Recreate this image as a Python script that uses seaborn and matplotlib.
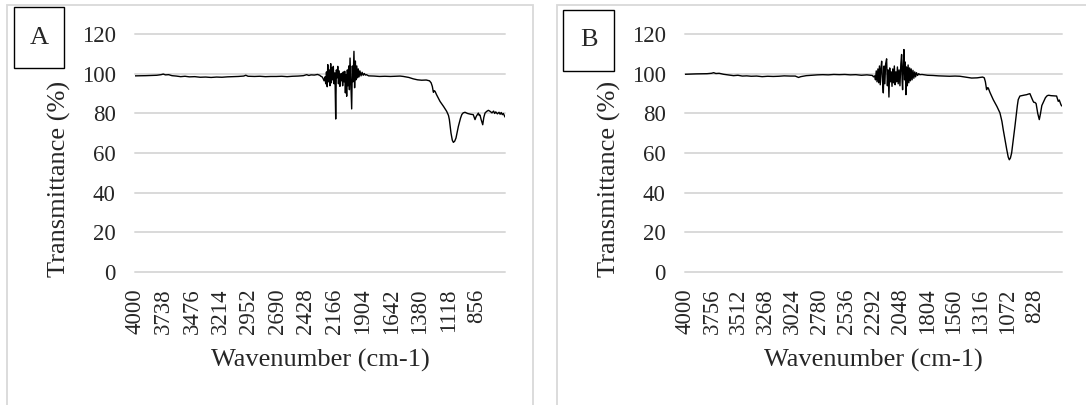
import matplotlib
matplotlib.use("Agg")
import matplotlib.pyplot as plt
import matplotlib.patches as mpatches
import pandas as pd
import seaborn as sns

# FTIR spectrum A (wavenumber, transmittance %)
wn_a = [4000, 3900, 3800, 3760, 3740, 3720, 3690, 3660, 3620, 3580, 3540, 3500,
        3450, 3400, 3350, 3300, 3250, 3200, 3150, 3100, 3050, 3000, 2980, 2960,
        2900, 2850, 2800, 2750, 2700, 2650, 2600, 2550, 2500, 2450, 2420, 2400,
        2380, 2350, 2320, 2300, 2290, 2280, 2270, 2260, 2251, 2245, 2238, 2231,
        2226, 2220, 2213, 2206, 2199, 2193, 2187, 2181, 2175, 2168, 2160, 2153,
        2147, 2140, 2134, 2128, 2121, 2114, 2108, 2102, 2095, 2089, 2083, 2076,
        2070, 2064, 2058, 2052, 2046, 2040, 2033, 2027, 2021, 2014, 2006, 2000,
        1993, 1985, 1979, 1972, 1966, 1959, 1952, 1945, 1938, 1930, 1920, 1910,
        1900, 1890, 1880, 1870, 1850, 1800, 1750, 1700, 1650, 1600, 1560, 1530,
        1480, 1440, 1400, 1362, 1320, 1290, 1275, 1264, 1254, 1246, 1239, 1225,
        1193, 1160, 1132, 1115, 1107, 1092, 1080, 1070, 1058, 1046, 1024, 1005,
        993, 980, 963, 940, 910, 887, 878, 871, 860, 850, 840, 832, 825, 815,
        800, 790, 779, 765, 748, 730, 715, 700, 690, 680, 665, 650, 640, 630,
        620, 610, 595]
t_a = [99.0, 99.1, 99.3, 99.6, 99.9, 99.5, 99.6, 99.1, 98.9, 98.6, 98.8, 98.5,
       98.6, 98.3, 98.4, 98.2, 98.4, 98.3, 98.5, 98.6, 98.7, 98.9, 99.3, 98.8,
       98.7, 98.8, 98.6, 98.7, 98.7, 98.8, 98.6, 98.8, 98.9, 99.1, 99.6, 99.2,
       99.5, 99.4, 99.7, 99.3, 98.8, 98.6, 97.8, 96.5, 98.5, 95.0, 101.0, 93.5,
       104.7, 96.0, 102.0, 94.0, 105.2, 95.5, 103.0, 97.0, 103.8, 95.0, 100.5, 77.2,
       102.0, 98.0, 103.8, 95.0, 101.5, 93.7, 100.0, 96.5, 100.3, 94.0, 101.0, 96.0,
       101.3, 90.4, 99.5, 88.7, 102.0, 94.0, 104.0, 92.0, 108.0, 96.0, 82.3, 104.0,
       96.0, 111.4, 93.0, 106.5, 97.0, 104.0, 98.0, 102.5, 98.5, 101.5, 99.0, 100.8,
       99.3, 100.2, 99.4, 99.6, 99.0, 98.9, 98.7, 98.8, 98.7, 98.8, 98.9, 98.7,
       98.2, 97.5, 97.0, 96.8, 96.9, 96.5, 95.5, 93.7, 90.7, 91.5, 91.2, 89.5,
       86.1, 83.5, 81.1, 79.0, 76.9, 70.1, 66.5, 65.4, 66.0, 67.6, 73.5, 77.5,
       79.4, 80.3, 80.6, 80.0, 79.6, 79.4, 78.0, 76.9, 78.5, 79.4, 80.2, 79.0, 79.2, 77.0,
       74.3, 78.0, 80.2, 81.0, 81.6, 81.0, 80.3, 81.2, 80.0, 80.8, 79.8, 80.6, 79.6, 80.5,
       79.4, 80.0, 78.2]

# FTIR spectrum B
wn_b = [4000, 3900, 3800, 3760, 3740, 3720, 3690, 3650, 3600, 3560, 3520, 3480,
        3440, 3400, 3350, 3300, 3250, 3200, 3150, 3100, 3050, 3000, 2970, 2950,
        2900, 2850, 2800, 2750, 2700, 2650, 2600, 2550, 2500, 2450, 2400, 2350,
        2300, 2290, 2280, 2272, 2265, 2258, 2250, 2243, 2236, 2229, 2222, 2216,
        2208, 2201, 2194, 2187, 2180, 2171, 2164, 2157, 2150, 2143, 2136, 2129,
        2122, 2115, 2108, 2101, 2094, 2087, 2080, 2073, 2066, 2058, 2050, 2042,
        2035, 2030, 2026, 2020, 2014, 2008, 2002, 1996, 1990, 1983, 1976, 1969,
        1962, 1955, 1948, 1940, 1932, 1924, 1916, 1908, 1900, 1890, 1880, 1870,
        1850, 1800, 1750, 1700, 1650, 1600, 1550, 1506, 1450, 1400, 1350, 1300,
        1285, 1275, 1264, 1256, 1249, 1240, 1234, 1204, 1170, 1143, 1125, 1113,
        1095, 1081, 1068, 1058, 1048, 1037, 1020, 1007, 995, 985, 977, 962,
        946, 920, 900, 885, 871, 860, 850, 841, 835, 826, 815, 800,
        786, 775, 763, 750, 730, 714, 700, 680, 660, 644, 629, 614,
        605, 597, 590, 583]
t_b = [99.8, 100.0, 100.1, 100.3, 100.6, 100.2, 100.3, 99.8, 99.4, 99.1, 99.3, 98.9,
       99.0, 98.8, 98.9, 98.6, 98.8, 98.7, 98.8, 99.0, 98.9, 98.9, 98.2, 98.6,
       99.1, 99.3, 99.5, 99.6, 99.5, 99.7, 99.6, 99.7, 99.5, 99.6, 99.3, 99.5,
       99.2, 98.5, 99.0, 97.0, 101.5, 96.0, 102.5, 95.5, 104.0, 94.5, 103.0, 106.4,
       96.0, 90.4, 104.0, 95.0, 105.0, 107.6, 94.0, 102.0, 88.3, 103.0, 96.0, 101.0,
       93.7, 102.5, 95.5, 104.0, 94.5, 101.0, 96.0, 103.5, 95.0, 102.0, 94.0, 105.0,
       109.8, 96.0, 92.0, 104.0, 112.3, 97.0, 106.0, 89.5, 103.5, 94.0, 104.5, 95.5,
       103.0, 96.5, 102.5, 97.0, 101.8, 97.8, 101.0, 98.5, 100.6, 99.2, 100.1, 99.6,
       99.7, 99.3, 99.2, 99.0, 98.9, 98.8, 98.9, 98.8, 98.3, 97.9, 98.0, 98.4,
       98.0, 96.0, 92.0, 93.0, 92.9, 91.5, 90.7, 87.0, 83.5, 80.3, 76.0, 71.8,
       66.0, 61.7, 58.0, 56.6, 57.5, 60.0, 67.5, 73.5, 79.5, 84.0, 87.0, 88.8,
       89.0, 89.3, 89.5, 89.8, 90.0, 88.5, 87.2, 86.1, 85.6, 85.6, 85.0, 80.0,
       76.9, 80.0, 84.0, 85.6, 88.0, 89.0, 89.2, 89.0, 88.9, 88.8, 88.8, 86.1,
       86.8, 85.5, 84.5, 83.8]

ticks_a = [4000, 3738, 3476, 3214, 2952, 2690, 2428, 2166, 1904, 1642, 1380, 1118, 856]
ticks_b = [4000, 3756, 3512, 3268, 3024, 2780, 2536, 2292, 2048, 1804, 1560, 1316, 1072, 828]
y_ticks = [0, 20, 40, 60, 80, 100, 120]

sns.set_style("white")
plt.rcParams['font.family'] = ['Liberation Serif', 'DejaVu Serif']

W, H = 1086, 405
fig = plt.figure(figsize=(W / 100, H / 100), dpi=100)


def px_box(x0, y0, x1, y1):
    # convert pixel box (top-left origin) to figure fraction rect
    return [x0 / W, 1 - y1 / H, (x1 - x0) / W, (y1 - y0) / H]


def panel(ax, wn, t, ticks, xmin, letter, frame, lbox, ylab_x):
    df = pd.DataFrame({'wn': wn, 't': t})
    sns.lineplot(data=df, x='wn', y='t', ax=ax, color='black', lw=1.0,
                 estimator=None, sort=False)
    ax.set_xlim(4000, xmin)
    ax.set_ylim(0, 120)
    for v in y_ticks:
        ax.axhline(v, color='#d9d9d9', lw=1.4, zorder=0, clip_on=False)
    for s in ax.spines.values():
        s.set_visible(False)
    ax.set_xticks(ticks)
    ax.set_xticklabels([str(v) for v in ticks], rotation=90, fontsize=16.5)
    ax.set_yticks(y_ticks)
    ax.set_yticklabels([str(v) for v in y_ticks], fontsize=16.5)
    ax.tick_params(axis='x', length=0, pad=12)
    ax.tick_params(axis='y', length=0, pad=14)
    ax.set_xlabel('Wavenumber (cm-1)', fontsize=19)
    ax.set_ylabel('Transmittance (%)', fontsize=19)
    ax.xaxis.set_label_coords(0.5, -0.325)
    ax.yaxis.set_label_coords(ylab_x, 0.39)
    ax.patch.set_alpha(0)

    # light gray outer frame of the chart object
    fx0, fy0, fx1, fy1 = frame
    fig.patches.append(mpatches.Rectangle((fx0 / W, 1 - fy1 / H), (fx1 - fx0) / W,
                                          (fy1 - fy0) / H, transform=fig.transFigure,
                                          fill=False, edgecolor='#d9d9d9', lw=1.3))
    # boxed panel letter
    bx0, by0, bx1, by1 = lbox
    fig.patches.append(mpatches.Rectangle((bx0 / W, 1 - by1 / H), (bx1 - bx0) / W,
                                          (by1 - by0) / H, transform=fig.transFigure,
                                          fill=False, edgecolor='black', lw=1.0))
    fig.text((bx0 + bx1) / 2 / W, 1 - (by0 + by1) / 2 / H, letter, fontsize=19,
             ha='center', va='center')


ax_a = fig.add_axes(px_box(135, 34.3, 505, 271.8))
ax_b = fig.add_axes(px_box(685, 34.3, 1062, 271.8))

panel(ax_a, wn_a, t_a, ticks_a, 595, 'A', (7, 5, 533, 420), (14, 7, 64, 68), -0.173)
panel(ax_b, wn_b, t_b, ticks_b, 580, 'B', (557, 5, 1100, 420), (563, 10, 614, 71), -0.17)

fig.savefig('out.png', dpi=100)
